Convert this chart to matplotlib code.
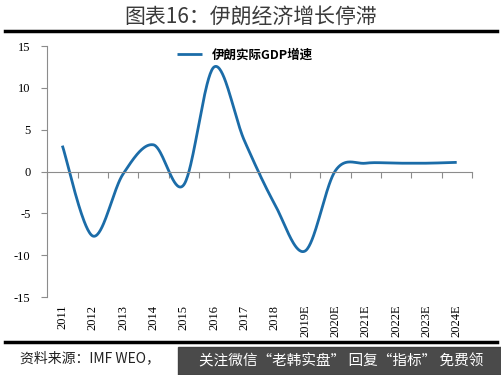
"""
Iran real GDP growth, 2011-2024E (IMF WEO), Excel-style smoothed line.
"""

import matplotlib.pyplot as plt
import numpy as np
from matplotlib.transforms import blended_transform_factory

plt.rcParams["font.family"] = ["Noto Sans CJK SC", "DejaVu Sans"]

YEARS = ["2011", "2012", "2013", "2014", "2015", "2016", "2017", "2018",
         "2019E", "2020E", "2021E", "2022E", "2023E", "2024E"]
GDP_GROWTH = [3.1, -7.7, -0.3, 3.2, -1.6, 12.5, 3.7, -3.9,
              -9.5, 0.1, 1.0, 1.0, 1.0, 1.1]
Y_TICKS = [-15, -10, -5, 0, 5, 10, 15]

LINE_COLOR = "#1b6ca8"
AXIS_COLOR = "#8c8c8c"


def smooth_curve(x, y, steps=40):
    """Catmull-Rom spline through the points, like Excel's smoothed line."""
    x = np.asarray(x, float)
    y = np.asarray(y, float)
    px = np.concatenate([[x[0]], x, [x[-1]]])
    py = np.concatenate([[y[0]], y, [y[-1]]])
    xs, ys = [], []
    t = np.linspace(0, 1, steps)
    for i in range(1, len(px) - 2):
        p0, p1, p2, p3 = (np.array([px[j], py[j]]) for j in range(i - 1, i + 3))
        c1 = p1 + (p2 - p0) / 6
        c2 = p2 - (p3 - p1) / 6
        pts = (((1 - t) ** 3)[:, None] * p1 + (3 * (1 - t) ** 2 * t)[:, None] * c1
               + (3 * (1 - t) * t ** 2)[:, None] * c2 + (t ** 3)[:, None] * p2)
        xs.append(pts[:, 0])
        ys.append(pts[:, 1])
    return np.concatenate(xs), np.concatenate(ys)


def main():
    fig = plt.figure(figsize=(5.02, 3.75), dpi=100)
    fig.patch.set_facecolor("white")

    # title and header rule
    fig.text(0.5, 0.955, "图表16：伊朗经济增长停滞", ha="center", va="center",
             fontsize=15, color="#3a3a3a")
    fig.add_artist(plt.Line2D([0.01, 0.99], [0.917, 0.917], color="black", lw=2.5))
    fig.add_artist(plt.Line2D([0.01, 0.99], [0.088, 0.088], color="black", lw=2.5))

    ax = fig.add_axes([0.094, 0.208, 0.846, 0.669])
    x = np.arange(len(YEARS))
    sx, sy = smooth_curve(x, GDP_GROWTH)
    ax.plot(sx, sy, color=LINE_COLOR, lw=2, label="伊朗实际GDP增速",
            solid_capstyle="butt")

    ax.set_xlim(-0.5, len(YEARS) - 0.5)
    ax.set_ylim(-15, 15)
    ax.set_yticks(Y_TICKS)
    ax.set_yticklabels([str(v) for v in Y_TICKS], fontsize=9,
                       family="Liberation Serif")
    ax.tick_params(axis="y", length=4, color=AXIS_COLOR, pad=8)

    for side in ("top", "right"):
        ax.spines[side].set_visible(False)
    ax.spines["left"].set_color(AXIS_COLOR)
    ax.spines["bottom"].set_color(AXIS_COLOR)
    ax.spines["bottom"].set_position(("data", 0))

    ax.set_xticks(np.arange(len(YEARS) + 1) - 0.5)
    ax.set_xticklabels([])
    ax.tick_params(axis="x", direction="out", length=4, color=AXIS_COLOR)

    trans = blended_transform_factory(ax.transData, ax.transAxes)
    for i, label in enumerate(YEARS):
        ax.text(i, -0.03, label, transform=trans, rotation=90, ha="center",
                va="top", fontsize=9, family="Liberation Serif")

    ax.legend(loc="upper center", bbox_to_anchor=(0.465, 1.035), frameon=False,
              handlelength=2.0, prop={"weight": "bold", "size": 9})

    # source line with overlay banner
    fig.text(0.04, 0.045, "资料来源：IMF WEO，", ha="left", va="center",
             fontsize=10, style="italic", color="#222222")
    fig.add_artist(plt.Rectangle((0.355, 0.0), 0.645, 0.075, transform=fig.transFigure,
                                 color="#3a3a3a", alpha=0.92))
    fig.text(0.68, 0.037, "关注微信“老韩实盘” 回复“指标” 免费领", ha="center",
             va="center", fontsize=10.5, color="white")

    fig.savefig("out.png", dpi=100)
    plt.close(fig)


if __name__ == "__main__":
    main()
